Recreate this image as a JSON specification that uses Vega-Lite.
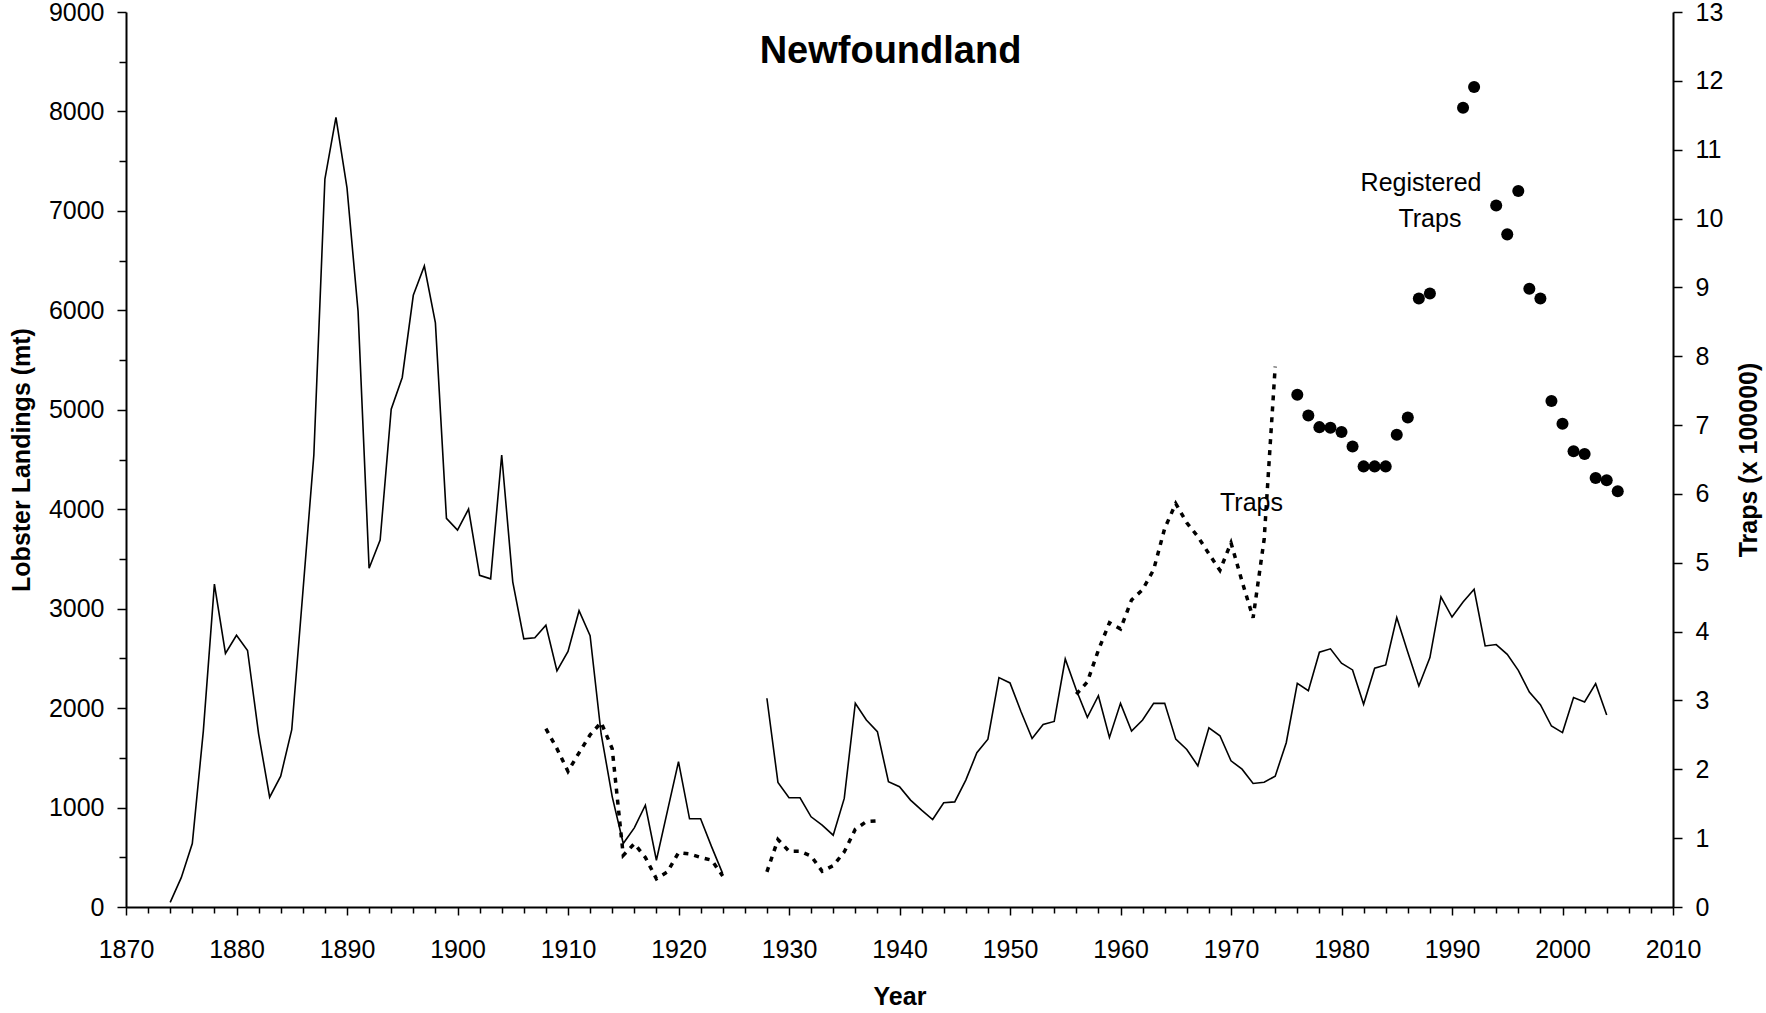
{
  "$schema": "https://vega.github.io/schema/vega-lite/v6.json",
  "width": 1547,
  "height": 895,
  "autosize": {"type": "none"},
  "padding": {"left": 126, "top": 12, "right": 93, "bottom": 106},
  "background": "white",
  "config": {
    "view": {"stroke": null},
    "font": "Liberation Sans",
    "axis": {
      "grid": false,
      "domainColor": "black",
      "domainWidth": 2,
      "tickColor": "black",
      "tickWidth": 1.5,
      "labelColor": "black",
      "labelFont": "Liberation Sans",
      "labelFontSize": 25,
      "titleFont": "Liberation Sans",
      "titleFontSize": 25,
      "titleFontWeight": "bold",
      "titleColor": "black",
      "labelFlush": false,
      "labelOverlap": false,
      "labelBound": false
    }
  },
  "title": {
    "text": "Newfoundland",
    "font": "Liberation Sans",
    "fontSize": 38,
    "fontWeight": "bold",
    "color": "black",
    "anchor": "middle",
    "frame": "group",
    "offset": -71,
    "dx": -9
  },
  "datasets": {
    "landings": [
      {"year": 1874, "mt": 47, "seg": "a"}, {"year": 1875, "mt": 295, "seg": "a"}, {"year": 1876, "mt": 638, "seg": "a"},
      {"year": 1877, "mt": 1771, "seg": "a"}, {"year": 1878, "mt": 3247, "seg": "a"}, {"year": 1879, "mt": 2550, "seg": "a"},
      {"year": 1880, "mt": 2733, "seg": "a"}, {"year": 1881, "mt": 2580, "seg": "a"}, {"year": 1882, "mt": 1741, "seg": "a"},
      {"year": 1883, "mt": 1104, "seg": "a"}, {"year": 1884, "mt": 1316, "seg": "a"}, {"year": 1885, "mt": 1783, "seg": "a"},
      {"year": 1886, "mt": 3158, "seg": "a"}, {"year": 1887, "mt": 4545, "seg": "a"}, {"year": 1888, "mt": 7320, "seg": "a"},
      {"year": 1889, "mt": 7940, "seg": "a"}, {"year": 1890, "mt": 7231, "seg": "a"}, {"year": 1891, "mt": 5992, "seg": "a"},
      {"year": 1892, "mt": 3406, "seg": "a"}, {"year": 1893, "mt": 3690, "seg": "a"}, {"year": 1894, "mt": 5006, "seg": "a"},
      {"year": 1895, "mt": 5325, "seg": "a"}, {"year": 1896, "mt": 6151, "seg": "a"}, {"year": 1897, "mt": 6446, "seg": "a"},
      {"year": 1898, "mt": 5874, "seg": "a"}, {"year": 1899, "mt": 3908, "seg": "a"}, {"year": 1900, "mt": 3790, "seg": "a"},
      {"year": 1901, "mt": 4002, "seg": "a"}, {"year": 1902, "mt": 3335, "seg": "a"}, {"year": 1903, "mt": 3300, "seg": "a"},
      {"year": 1904, "mt": 4545, "seg": "a"}, {"year": 1905, "mt": 3270, "seg": "a"}, {"year": 1906, "mt": 2696, "seg": "a"},
      {"year": 1907, "mt": 2708, "seg": "a"}, {"year": 1908, "mt": 2833, "seg": "a"}, {"year": 1909, "mt": 2375, "seg": "a"},
      {"year": 1910, "mt": 2570, "seg": "a"}, {"year": 1911, "mt": 2979, "seg": "a"}, {"year": 1912, "mt": 2728, "seg": "a"},
      {"year": 1913, "mt": 1740, "seg": "a"}, {"year": 1914, "mt": 1110, "seg": "a"}, {"year": 1915, "mt": 638, "seg": "a"},
      {"year": 1916, "mt": 796, "seg": "a"}, {"year": 1917, "mt": 1024, "seg": "a"}, {"year": 1918, "mt": 470, "seg": "a"},
      {"year": 1919, "mt": 967, "seg": "a"}, {"year": 1920, "mt": 1461, "seg": "a"}, {"year": 1921, "mt": 887, "seg": "a"},
      {"year": 1922, "mt": 887, "seg": "a"}, {"year": 1923, "mt": 605, "seg": "a"}, {"year": 1924, "mt": 336, "seg": "a"},
      {"year": 1928, "mt": 2099, "seg": "b"}, {"year": 1929, "mt": 1253, "seg": "b"}, {"year": 1930, "mt": 1098, "seg": "b"},
      {"year": 1931, "mt": 1098, "seg": "b"}, {"year": 1932, "mt": 907, "seg": "b"}, {"year": 1933, "mt": 823, "seg": "b"},
      {"year": 1934, "mt": 722, "seg": "b"}, {"year": 1935, "mt": 1092, "seg": "b"}, {"year": 1936, "mt": 2049, "seg": "b"},
      {"year": 1937, "mt": 1881, "seg": "b"}, {"year": 1938, "mt": 1763, "seg": "b"}, {"year": 1939, "mt": 1260, "seg": "b"},
      {"year": 1940, "mt": 1209, "seg": "b"}, {"year": 1941, "mt": 1075, "seg": "b"}, {"year": 1942, "mt": 974, "seg": "b"},
      {"year": 1943, "mt": 880, "seg": "b"}, {"year": 1944, "mt": 1048, "seg": "b"}, {"year": 1945, "mt": 1057, "seg": "b"},
      {"year": 1946, "mt": 1276, "seg": "b"}, {"year": 1947, "mt": 1551, "seg": "b"}, {"year": 1948, "mt": 1688, "seg": "b"},
      {"year": 1949, "mt": 2307, "seg": "b"}, {"year": 1950, "mt": 2253, "seg": "b"}, {"year": 1951, "mt": 1964, "seg": "b"},
      {"year": 1952, "mt": 1695, "seg": "b"}, {"year": 1953, "mt": 1836, "seg": "b"}, {"year": 1954, "mt": 1866, "seg": "b"},
      {"year": 1955, "mt": 2494, "seg": "b"}, {"year": 1956, "mt": 2182, "seg": "b"}, {"year": 1957, "mt": 1907, "seg": "b"},
      {"year": 1958, "mt": 2125, "seg": "b"}, {"year": 1959, "mt": 1705, "seg": "b"}, {"year": 1960, "mt": 2048, "seg": "b"},
      {"year": 1961, "mt": 1769, "seg": "b"}, {"year": 1962, "mt": 1880, "seg": "b"}, {"year": 1963, "mt": 2048, "seg": "b"},
      {"year": 1964, "mt": 2048, "seg": "b"}, {"year": 1965, "mt": 1688, "seg": "b"}, {"year": 1966, "mt": 1584, "seg": "b"},
      {"year": 1967, "mt": 1420, "seg": "b"}, {"year": 1968, "mt": 1802, "seg": "b"}, {"year": 1969, "mt": 1722, "seg": "b"},
      {"year": 1970, "mt": 1470, "seg": "b"}, {"year": 1971, "mt": 1386, "seg": "b"}, {"year": 1972, "mt": 1242, "seg": "b"},
      {"year": 1973, "mt": 1255, "seg": "b"}, {"year": 1974, "mt": 1316, "seg": "b"}, {"year": 1975, "mt": 1652, "seg": "b"},
      {"year": 1976, "mt": 2250, "seg": "b"}, {"year": 1977, "mt": 2176, "seg": "b"}, {"year": 1978, "mt": 2562, "seg": "b"},
      {"year": 1979, "mt": 2596, "seg": "b"}, {"year": 1980, "mt": 2451, "seg": "b"}, {"year": 1981, "mt": 2384, "seg": "b"},
      {"year": 1982, "mt": 2038, "seg": "b"}, {"year": 1983, "mt": 2401, "seg": "b"}, {"year": 1984, "mt": 2434, "seg": "b"},
      {"year": 1985, "mt": 2910, "seg": "b"}, {"year": 1986, "mt": 2561, "seg": "b"}, {"year": 1987, "mt": 2223, "seg": "b"},
      {"year": 1988, "mt": 2508, "seg": "b"}, {"year": 1989, "mt": 3118, "seg": "b"}, {"year": 1990, "mt": 2916, "seg": "b"},
      {"year": 1991, "mt": 3067, "seg": "b"}, {"year": 1992, "mt": 3195, "seg": "b"}, {"year": 1993, "mt": 2625, "seg": "b"},
      {"year": 1994, "mt": 2639, "seg": "b"}, {"year": 1995, "mt": 2541, "seg": "b"}, {"year": 1996, "mt": 2380, "seg": "b"},
      {"year": 1997, "mt": 2162, "seg": "b"}, {"year": 1998, "mt": 2035, "seg": "b"}, {"year": 1999, "mt": 1820, "seg": "b"},
      {"year": 2000, "mt": 1754, "seg": "b"}, {"year": 2001, "mt": 2106, "seg": "b"}, {"year": 2002, "mt": 2062, "seg": "b"},
      {"year": 2003, "mt": 2246, "seg": "b"}, {"year": 2004, "mt": 1931, "seg": "b"}
    ],
    "traps": [
      {"year": 1908, "traps": 2.59, "seg": "a"}, {"year": 1909, "traps": 2.3, "seg": "a"}, {"year": 1910, "traps": 1.97, "seg": "a"},
      {"year": 1911, "traps": 2.24, "seg": "a"}, {"year": 1912, "traps": 2.5, "seg": "a"}, {"year": 1913, "traps": 2.68, "seg": "a"},
      {"year": 1914, "traps": 2.3, "seg": "a"}, {"year": 1915, "traps": 0.75, "seg": "a"}, {"year": 1916, "traps": 0.92, "seg": "a"},
      {"year": 1917, "traps": 0.72, "seg": "a"}, {"year": 1918, "traps": 0.41, "seg": "a"}, {"year": 1919, "traps": 0.51, "seg": "a"},
      {"year": 1920, "traps": 0.79, "seg": "a"}, {"year": 1921, "traps": 0.77, "seg": "a"}, {"year": 1922, "traps": 0.72, "seg": "a"},
      {"year": 1923, "traps": 0.68, "seg": "a"}, {"year": 1924, "traps": 0.45, "seg": "a"},
      {"year": 1928, "traps": 0.51, "seg": "b"}, {"year": 1929, "traps": 0.98, "seg": "b"}, {"year": 1930, "traps": 0.81, "seg": "b"},
      {"year": 1931, "traps": 0.81, "seg": "b"}, {"year": 1932, "traps": 0.74, "seg": "b"}, {"year": 1933, "traps": 0.52, "seg": "b"},
      {"year": 1934, "traps": 0.6, "seg": "b"}, {"year": 1935, "traps": 0.8, "seg": "b"}, {"year": 1936, "traps": 1.13, "seg": "b"},
      {"year": 1937, "traps": 1.24, "seg": "b"}, {"year": 1938, "traps": 1.25, "seg": "b"},
      {"year": 1956, "traps": 3.09, "seg": "c"}, {"year": 1957, "traps": 3.27, "seg": "c"}, {"year": 1958, "traps": 3.73, "seg": "c"},
      {"year": 1959, "traps": 4.13, "seg": "c"}, {"year": 1960, "traps": 4.04, "seg": "c"}, {"year": 1961, "traps": 4.46, "seg": "c"},
      {"year": 1962, "traps": 4.61, "seg": "c"}, {"year": 1963, "traps": 4.9, "seg": "c"}, {"year": 1964, "traps": 5.5, "seg": "c"},
      {"year": 1965, "traps": 5.86, "seg": "c"}, {"year": 1966, "traps": 5.58, "seg": "c"}, {"year": 1967, "traps": 5.38, "seg": "c"},
      {"year": 1968, "traps": 5.13, "seg": "c"}, {"year": 1969, "traps": 4.89, "seg": "c"}, {"year": 1970, "traps": 5.29, "seg": "c"},
      {"year": 1971, "traps": 4.73, "seg": "c"}, {"year": 1972, "traps": 4.2, "seg": "c"}, {"year": 1973, "traps": 5.34, "seg": "c"},
      {"year": 1974, "traps": 7.85, "seg": "c"}
    ],
    "registered": [
      {"year": 1976, "traps": 7.44}, {"year": 1977, "traps": 7.14}, {"year": 1978, "traps": 6.97}, {"year": 1979, "traps": 6.96},
      {"year": 1980, "traps": 6.9}, {"year": 1981, "traps": 6.69}, {"year": 1982, "traps": 6.4}, {"year": 1983, "traps": 6.4},
      {"year": 1984, "traps": 6.4}, {"year": 1985, "traps": 6.86}, {"year": 1986, "traps": 7.11}, {"year": 1987, "traps": 8.84},
      {"year": 1988, "traps": 8.91}, {"year": 1991, "traps": 11.61}, {"year": 1992, "traps": 11.91}, {"year": 1994, "traps": 10.19},
      {"year": 1995, "traps": 9.77}, {"year": 1996, "traps": 10.4}, {"year": 1997, "traps": 8.98}, {"year": 1998, "traps": 8.84},
      {"year": 1999, "traps": 7.35}, {"year": 2000, "traps": 7.02}, {"year": 2001, "traps": 6.62}, {"year": 2002, "traps": 6.58},
      {"year": 2003, "traps": 6.23}, {"year": 2004, "traps": 6.2}, {"year": 2005, "traps": 6.04}
    ],
    "notes": [
      {"year": 1971.85, "traps": 5.75, "label": "Traps"},
      {"year": 1987.2, "traps": 10.4, "label": "Registered"},
      {"year": 1988.0, "traps": 9.88, "label": "Traps"}
    ]
  },
  "encoding": {
    "x": {
      "field": "year",
      "type": "quantitative",
      "scale": {"domain": [1870, 2010], "nice": false, "zero": false},
      "axis": {
        "title": "Year",
        "values": [1870,1872,1874,1876,1878,1880,1882,1884,1886,1888,1890,1892,1894,1896,1898,1900,1902,1904,1906,1908,1910,1912,1914,1916,1918,1920,1922,1924,1926,1928,1930,1932,1934,1936,1938,1940,1942,1944,1946,1948,1950,1952,1954,1956,1958,1960,1962,1964,1966,1968,1970,1972,1974,1976,1978,1980,1982,1984,1986,1988,1990,1992,1994,1996,1998,2000,2002,2004,2006,2008,2010],
        "format": "d",
        "labelExpr": "datum.value % 10 === 0 ? datum.label : ''",
        "tickSize": {"condition": {"test": "datum.value % 10 === 0", "value": 8}, "value": 6},
        "labelPadding": 22,
        "titlePadding": 22
      }
    }
  },
  "layer": [
    {
      "data": {"name": "landings"},
      "mark": {"type": "line", "color": "black", "strokeWidth": 1.6},
      "encoding": {
        "y": {
          "field": "mt",
          "type": "quantitative",
          "scale": {"domain": [0, 9000], "nice": false},
          "axis": {
            "orient": "left",
            "title": "Lobster Landings (mt)",
            "values": [0,500,1000,1500,2000,2500,3000,3500,4000,4500,5000,5500,6000,6500,7000,7500,8000,8500,9000],
            "format": "d",
            "labelExpr": "datum.value % 1000 === 0 ? datum.label : ''",
            "tickSize": {"condition": {"test": "datum.value % 1000 === 0", "value": 9}, "value": 7},
            "labelPadding": 13,
            "titlePadding": 14
          }
        },
        "detail": {"field": "seg", "type": "nominal"}
      }
    },
    {
      "layer": [
        {
          "data": {"name": "traps"},
          "mark": {"type": "line", "color": "black", "strokeWidth": 3.5, "strokeDash": [5, 6], "strokeCap": "butt"},
          "encoding": {
            "y": {
              "field": "traps",
              "type": "quantitative",
              "scale": {"domain": [0, 13], "nice": false},
              "axis": {
                "orient": "right",
                "title": "Traps (x 100000)",
                "values": [0,0.5,1,1.5,2,2.5,3,3.5,4,4.5,5,5.5,6,6.5,7,7.5,8,8.5,9,9.5,10,10.5,11,11.5,12,12.5,13],
                "format": "d",
                "labelExpr": "datum.value % 1 === 0 ? datum.label : ''",
                "tickSize": {"condition": {"test": "datum.value % 1 === 0", "value": 9}, "value": 7},
                "labelPadding": 13,
                "titlePadding": 14,
                "titleAngle": -90,
                "titleBaseline": "top"
              }
            },
            "detail": {"field": "seg", "type": "nominal"}
          }
        },
        {
          "data": {"name": "registered"},
          "mark": {"type": "circle", "color": "black", "opacity": 1, "size": 145},
          "encoding": {
            "y": {"field": "traps", "type": "quantitative", "scale": {"domain": [0, 13], "nice": false}}
          }
        },
        {
          "data": {"name": "notes"},
          "mark": {"type": "text", "color": "black", "fontSize": 25, "font": "Liberation Sans", "align": "center", "baseline": "alphabetic"},
          "encoding": {
            "y": {"field": "traps", "type": "quantitative", "scale": {"domain": [0, 13], "nice": false}},
            "text": {"field": "label", "type": "nominal"}
          }
        }
      ]
    }
  ],
  "resolve": {"scale": {"y": "independent"}, "axis": {"y": "independent"}}
}
